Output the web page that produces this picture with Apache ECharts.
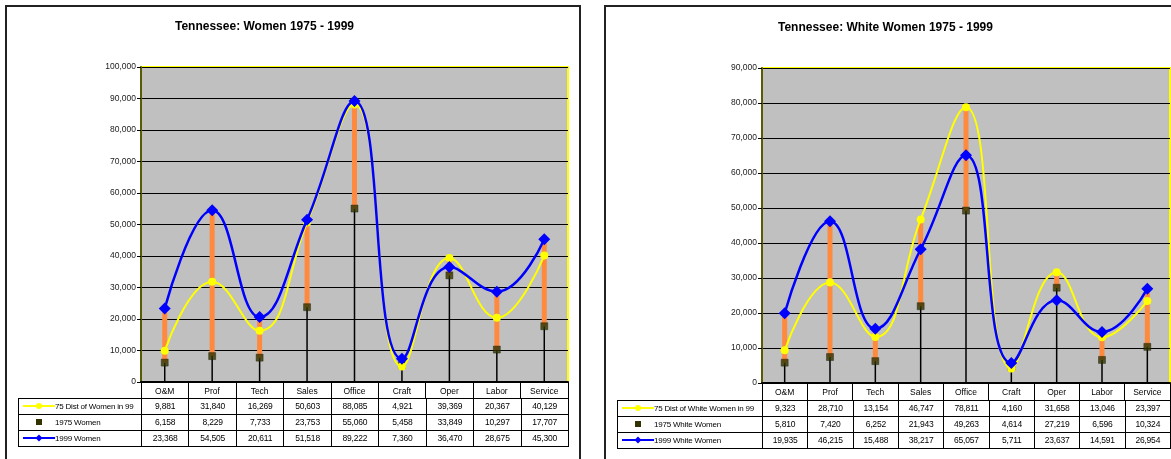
<!DOCTYPE html>
<html><head><meta charset="utf-8">
<script src="https://cdn.jsdelivr.net/npm/echarts@6/dist/echarts.min.js"></script>
<style>
html,body{margin:0;padding:0;background:#fff;}
#wrap{position:relative;width:1171px;height:459px;overflow:hidden;font-family:"Liberation Sans",Arial,sans-serif;}
#chart{position:absolute;left:0;top:0;width:1171px;height:459px;}
.panel{position:absolute;border:2px solid #222;box-sizing:border-box;}
table.dt{position:absolute;border-collapse:collapse;table-layout:fixed;font-size:8.5px;color:#000;letter-spacing:-0.2px;}
table.dt td{border:1px solid #000;height:15px;padding:0;text-align:center;white-space:nowrap;overflow:hidden;line-height:15px;}
table.dt td.lg{text-align:left;padding-left:4px;font-size:8px;}
table.dt td.lg svg{vertical-align:middle;margin-top:-2px;}
</style>
</head><body>
<div id="wrap">
<div class="panel" style="left:5px;top:5px;width:576px;height:470px;"></div>
<div class="panel" style="left:604px;top:5px;width:600px;height:470px;"></div>
<div id="chart"></div>
</div>
<script>
const categories = ['O&M','Prof','Tech','Sales','Office','Craft','Oper','Labor','Service'];
const women75Dist = [9881,31840,16269,50603,88085,4921,39369,20367,40129];
const women1975 = [6158,8229,7733,23753,55060,5458,33849,10297,17707];
const women1999 = [23368,54505,20611,51518,89222,7360,36470,28675,45300];
const white75Dist = [9323,28710,13154,46747,78811,4160,31658,13046,23397];
const white1975 = [5810,7420,6252,21943,49263,4614,27219,6596,10324];
const white1999 = [19935,46215,15488,38217,65057,5711,23637,14591,26954];
const leftTitle = 'Tennessee: Women 1975 - 1999';
const rightTitle = 'Tennessee: White Women 1975 - 1999';
const leftNames = ['75 Dist of Women in 99','1975 Women','1999 Women'];
const rightNames = ['75 Dist of White Women in 99','1975 White Women','1999 White Women'];

const FONT = '"Liberation Sans", Arial, sans-serif';
const grids = [
  {left:141, top:67, width:427, height:315},
  {left:762, top:68, width:408, height:315}
];
const fmt = v => v.toLocaleString('en-US');

function xAxis(gi){
  return {type:'category', gridIndex:gi, data:categories, boundaryGap:true,
    axisLine:{show:true, lineStyle:{color:'#000', width:2}},
    axisTick:{show:true, interval:0, length:17, lineStyle:{color:'#000', width:1}},
    axisLabel:{interval:0, color:'#000', fontSize:8.5, fontFamily:FONT, margin:5},
    splitLine:{show:false}};
}
function yAxis(gi, max){
  return {type:'value', gridIndex:gi, min:0, max:max, interval:10000,
    axisLine:{show:true, lineStyle:{color:'#5a5a00', width:2}},
    axisTick:{show:true, length:4, lineStyle:{color:'#000'}},
    axisLabel:{color:'#222', fontSize:8.5, fontFamily:FONT, margin:5, formatter:fmt},
    splitLine:{show:true, lineStyle:{color:'#000', width:1}}};
}
function seriesFor(gi, d75, d1975, d1999, names){
  const rangeData = categories.map((c,i)=>[i, d1975[i], Math.max(d75[i], d1999[i])]);
  return [
    {type:'custom', xAxisIndex:gi, yAxisIndex:gi, z:1, silent:true,
      encode:{x:0, y:[1,2]}, data:rangeData,
      renderItem:function(params, api){
        const i = api.value(0), lo = api.value(1), hi = api.value(2);
        const p0 = api.coord([i,0]), p1 = api.coord([i,lo]), p2 = api.coord([i,hi]);
        return {type:'group', children:[
          {type:'line', shape:{x1:p0[0],y1:p0[1],x2:p1[0],y2:p1[1]}, style:{stroke:'#000', lineWidth:1.5}},
          {type:'rect', shape:{x:p1[0]-2.5, y:p2[1], width:5, height:p1[1]-p2[1]}, style:{fill:'#ff8a3d'}}
        ]};
      }},
    {type:'scatter', name:names[1], xAxisIndex:gi, yAxisIndex:gi, z:2, data:d1975,
      symbol:'rect', symbolSize:7, itemStyle:{color:'#333300', borderColor:'#1a1a00', borderWidth:0.5}},
    {type:'line', name:names[0], xAxisIndex:gi, yAxisIndex:gi, z:3, data:d75, smooth:0.45,
      symbol:'circle', symbolSize:8, showAllSymbol:true,
      lineStyle:{color:'#ffff00', width:2}, itemStyle:{color:'#ffff00'}},
    {type:'line', name:names[2], xAxisIndex:gi, yAxisIndex:gi, z:4, data:d1999, smooth:0.45,
      symbol:'diamond', symbolSize:12, showAllSymbol:true,
      lineStyle:{color:'#0000ff', width:2.5}, itemStyle:{color:'#0000ff'}}
  ];
}

const chart = echarts.init(document.getElementById('chart'), null, {renderer:'canvas'});
chart.setOption({
  animation:false,
  backgroundColor:'transparent',
  title:[
    {text:leftTitle, left:170, top:16, textStyle:{fontSize:12, fontWeight:'bold', color:'#000', fontFamily:FONT}},
    {text:rightTitle, left:773, top:17, textStyle:{fontSize:12, fontWeight:'bold', color:'#000', fontFamily:FONT}}
  ],
  grid: grids.map(g=>Object.assign({show:true, backgroundColor:'#c0c0c0', borderColor:'#ffff00', borderWidth:2, containLabel:false}, g)),
  xAxis:[xAxis(0), xAxis(1)],
  yAxis:[yAxis(0,100000), yAxis(1,90000)],
  series:[].concat(
    seriesFor(0, women75Dist, women1975, women1999, leftNames),
    seriesFor(1, white75Dist, white1975, white1999, rightNames)
  )
});

const legendIcons = [
  '<svg width="32" height="8"><line x1="0" y1="4" x2="32" y2="4" stroke="#ffff00" stroke-width="2"/><circle cx="16" cy="4" r="3" fill="#ffff00"/></svg>',
  '<svg width="32" height="8"><rect x="13" y="1" width="6" height="6" fill="#333300"/></svg>',
  '<svg width="32" height="8"><line x1="0" y1="4" x2="32" y2="4" stroke="#0000ff" stroke-width="2"/><polygon points="16,0.5 19.5,4 16,7.5 12.5,4" fill="#0000ff"/></svg>'
];
function buildTable(left, top, firstW, dataW, names, rows){
  const t = document.createElement('table');
  t.className = 'dt';
  t.style.left = left + 'px';
  t.style.top = top + 'px';
  let html = '<colgroup><col style="width:' + firstW + 'px">';
  for (let i=0;i<categories.length;i++) html += '<col style="width:' + dataW + 'px">';
  html += '</colgroup>';
  rows.forEach((r, k)=>{
    html += '<tr><td class="lg">' + legendIcons[k] + names[k] + '</td>';
    r.forEach(v=>{ html += '<td>' + fmt(v) + '</td>'; });
    html += '</tr>';
  });
  t.innerHTML = html;
  t.style.width = (firstW + dataW*categories.length) + 'px';
  document.getElementById('wrap').appendChild(t);
}
buildTable(18, 398, 123, 427/9, leftNames, [women75Dist, women1975, women1999]);
buildTable(617, 400, 145, 408/9, rightNames, [white75Dist, white1975, white1999]);
</script>
</body></html>
